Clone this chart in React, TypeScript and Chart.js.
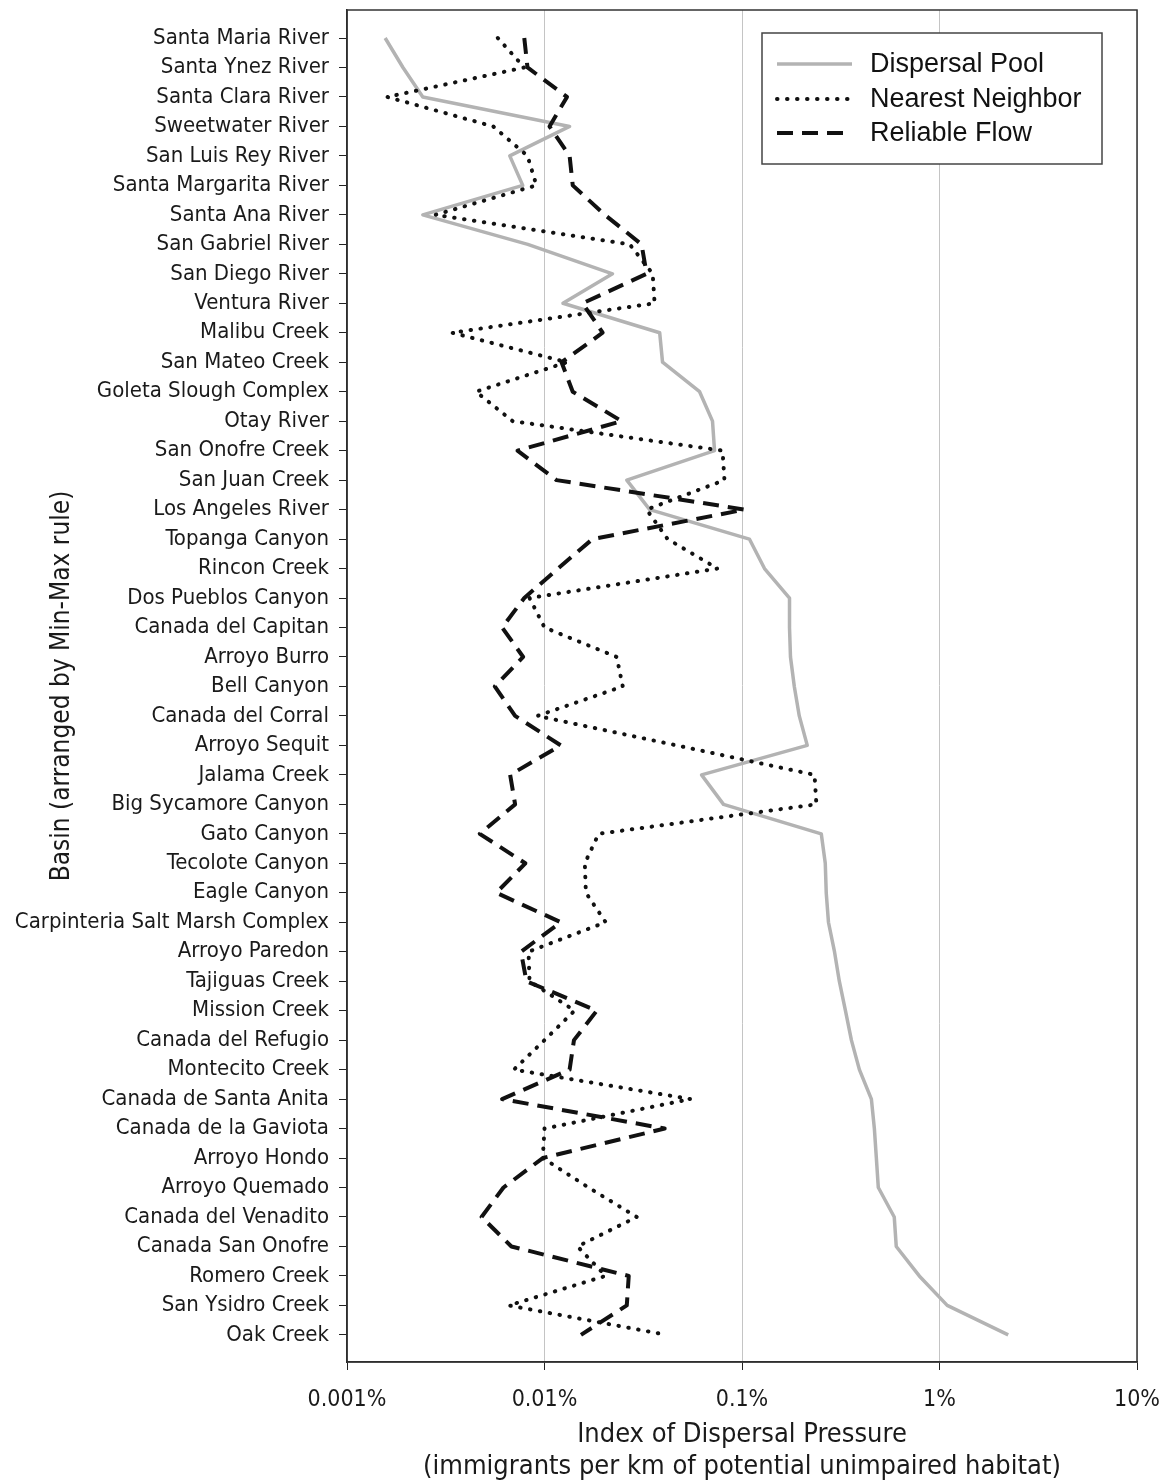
import React, { useEffect, useRef } from "react";
import { Chart, registerables } from "chart.js";

Chart.register(...registerables);

const basins = [
  "Santa Maria River", "Santa Ynez River", "Santa Clara River", "Sweetwater River",
  "San Luis Rey River", "Santa Margarita River", "Santa Ana River", "San Gabriel River",
  "San Diego River", "Ventura River", "Malibu Creek", "San Mateo Creek",
  "Goleta Slough Complex", "Otay River", "San Onofre Creek", "San Juan Creek",
  "Los Angeles River", "Topanga Canyon", "Rincon Creek", "Dos Pueblos Canyon",
  "Canada del Capitan", "Arroyo Burro", "Bell Canyon", "Canada del Corral",
  "Arroyo Sequit", "Jalama Creek", "Big Sycamore Canyon", "Gato Canyon",
  "Tecolote Canyon", "Eagle Canyon", "Carpinteria Salt Marsh Complex", "Arroyo Paredon",
  "Tajiguas Creek", "Mission Creek", "Canada del Refugio", "Montecito Creek",
  "Canada de Santa Anita", "Canada de la Gaviota", "Arroyo Hondo", "Arroyo Quemado",
  "Canada del Venadito", "Canada San Onofre", "Romero Creek", "San Ysidro Creek",
  "Oak Creek",
];

// values in percent
const dispersalPool = [
  0.00156, 0.00192, 0.00242, 0.0134, 0.00667, 0.00776, 0.00242, 0.00823, 0.0221, 0.0124,
  0.0383, 0.0396, 0.061, 0.0709, 0.0726, 0.0261, 0.0341, 0.109, 0.13, 0.174,
  0.174, 0.176, 0.184, 0.195, 0.214, 0.0624, 0.0806, 0.252, 0.264, 0.267,
  0.274, 0.294, 0.311, 0.334, 0.358, 0.393, 0.452, 0.468, 0.479, 0.49,
  0.59, 0.604, 0.79, 1.094, 2.228,
];

const nearestNeighbor = [
  0.0058, 0.0079, 0.0016, 0.0055, 0.0082, 0.0091, 0.0028, 0.027, 0.0353, 0.0361,
  0.0034, 0.013, 0.0045, 0.0069, 0.0797, 0.0815, 0.0329, 0.042, 0.0752, 0.0084,
  0.01, 0.0232, 0.0249, 0.0092, 0.0467, 0.233, 0.238, 0.0188, 0.016, 0.0162,
  0.0204, 0.0083, 0.0084, 0.0142, 0.01, 0.007, 0.0549, 0.01, 0.0098, 0.0167,
  0.0293, 0.0147, 0.0204, 0.0066, 0.0415,
];

const reliableFlow = [
  0.0079, 0.0082, 0.013, 0.0106, 0.0134, 0.0139, 0.0202, 0.031, 0.0329, 0.0156,
  0.0197, 0.0122, 0.0139, 0.0246, 0.0073, 0.0115, 0.103, 0.0175, 0.0117, 0.0079,
  0.0061, 0.0078, 0.0056, 0.0071, 0.0121, 0.0067, 0.0071, 0.0047, 0.008, 0.0057,
  0.0121, 0.0076, 0.0081, 0.0184, 0.0141, 0.0134, 0.0061, 0.0406, 0.0098, 0.0062,
  0.0048, 0.0068, 0.0267, 0.0261, 0.0153,
];

const xTickValues = [0.001, 0.01, 0.1, 1, 10];
const xTickLabels = ["0.001%", "0.01%", "0.1%", "1%", "10%"];

const seriesNames = ["Dispersal Pool", "Nearest Neighbor", "Reliable Flow"];

const TICK_FONT = "'DejaVu Sans Condensed', 'DejaVu Sans', sans-serif";
const LEGEND_FONT = "'Liberation Sans', Arial, sans-serif";

const styles = [
  { color: "#b3b3b3", width: 3.5, dash: [] as number[], cap: "butt" as CanvasLineCap },
  { color: "#111111", width: 4, dash: [0.5, 9.5], cap: "round" as CanvasLineCap },
  { color: "#111111", width: 4, dash: [16, 9], cap: "butt" as CanvasLineCap },
];

const framePlugin = {
  id: "frameAndLegend",
  afterDraw(chart: any) {
    const { ctx, chartArea } = chart;
    const { left, top, right, bottom } = chartArea;
    ctx.save();
    ctx.strokeStyle = "#333";
    ctx.lineWidth = 1.5;
    ctx.strokeRect(left, top, right - left, bottom - top);

    // legend box
    const bw = 340;
    const bh = 131;
    const bx = right - 35 - bw;
    const by = top + 23;
    ctx.fillStyle = "#fff";
    ctx.fillRect(bx, by, bw, bh);
    ctx.strokeStyle = "#444";
    ctx.lineWidth = 1.5;
    ctx.strokeRect(bx, by, bw, bh);
    const rows = [by + 31, by + 66, by + 100];
    seriesNames.forEach((name, i) => {
      const st = styles[i];
      ctx.beginPath();
      ctx.strokeStyle = st.color;
      ctx.lineWidth = st.width;
      ctx.setLineDash(st.dash);
      ctx.lineCap = st.cap;
      ctx.moveTo(bx + 15, rows[i]);
      ctx.lineTo(bx + 90, rows[i]);
      ctx.stroke();
      ctx.setLineDash([]);
      ctx.fillStyle = "#111";
      ctx.font = `27px ${LEGEND_FONT}`;
      ctx.textBaseline = "middle";
      ctx.textAlign = "left";
      ctx.fillText(name, bx + 108, rows[i] + 1);
    });
    ctx.restore();
  },
};

export default function App() {
  const ref = useRef<HTMLCanvasElement>(null);

  useEffect(() => {
    if (!ref.current) return;
    const series = [dispersalPool, nearestNeighbor, reliableFlow];
    const chart = new Chart(ref.current, {
      type: "line",
      data: {
        datasets: series.map((vals, i) => ({
          label: seriesNames[i],
          data: vals.map((v, j) => ({ x: v, y: j })),
          borderColor: styles[i].color,
          borderWidth: styles[i].width,
          borderDash: styles[i].dash,
          borderCapStyle: styles[i].cap,
          borderJoinStyle: "round",
          pointRadius: 0,
          tension: 0,
          fill: false,
          order: i === 0 ? 10 : i,
        })),
      },
      options: {
        indexAxis: "y",
        animation: false,
        responsive: false,
        layout: { padding: { top: 10, right: 30, bottom: 0, left: 0 } },
        plugins: { legend: { display: false }, tooltip: { enabled: false } },
        scales: {
          x: {
            type: "logarithmic",
            min: 0.001,
            max: 10,
            afterBuildTicks: (scale: any) => {
              scale.ticks = xTickValues.map((v) => ({ value: v }));
            },
            afterFit: (scale: any) => {
              scale.height = 121;
              scale.paddingLeft = 0;
              scale.paddingRight = 0;
            },
            ticks: {
              autoSkip: false,
              maxRotation: 0,
              padding: 16,
              color: "#1a1a1a",
              font: { family: TICK_FONT, size: 23 },
              callback: (value: any) => {
                const k = xTickValues.indexOf(Number(value));
                return k >= 0 ? xTickLabels[k] : "";
              },
            },
            grid: {
              color: "#c4c4c4",
              lineWidth: 1,
              tickColor: "#222",
              tickLength: 8,
            },
            border: { display: true, color: "#222", width: 1.5 },
            title: {
              display: true,
              text: ["Index of Dispersal Pressure", "(immigrants per km of potential unimpaired habitat)"],
              color: "#1a1a1a",
              font: { family: TICK_FONT, size: 27, lineHeight: 1.18 },
              padding: { top: 0, bottom: 0 },
            },
          },
          y: {
            type: "linear",
            reverse: true,
            min: -0.95,
            max: 44.92,
            afterBuildTicks: (scale: any) => {
              scale.ticks = basins.map((_, i) => ({ value: i }));
            },
            afterFit: (scale: any) => {
              scale.width = 347;
              scale.paddingTop = 0;
              scale.paddingBottom = 0;
            },
            ticks: {
              autoSkip: false,
              padding: 10,
              color: "#1a1a1a",
              font: { family: TICK_FONT, size: 22 },
              callback: (value: any) => basins[Number(value)] ?? "",
            },
            grid: {
              drawOnChartArea: false,
              drawTicks: true,
              tickColor: "#222",
              tickLength: 8,
            },
            border: { display: true, color: "#222", width: 1.5 },
            title: {
              display: true,
              text: "Basin (arranged by Min-Max rule)",
              color: "#1a1a1a",
              font: { family: TICK_FONT, size: 26, lineHeight: 1.2 },
              padding: { top: 47, bottom: 0 },
            },
          },
        },
      },
      plugins: [framePlugin],
    } as any);
    return () => chart.destroy();
  }, []);

  return (
    <div style={{ position: "absolute", left: 0, top: 0, width: 1167, height: 1483, background: "#fff" }}>
      <canvas ref={ref} width={1167} height={1483} style={{ display: "block" }} />
    </div>
  );
}
